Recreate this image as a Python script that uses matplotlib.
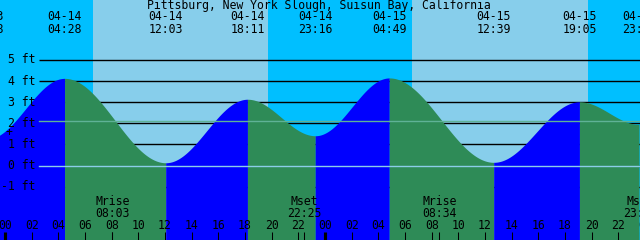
import numpy as np
import matplotlib
matplotlib.use("Agg")
import matplotlib.pyplot as plt
import matplotlib.transforms as mtransforms

# ---- data (hours measured from 04-14 00:00) ----
event_dates = ["04-13", "04-14", "04-14", "04-14", "04-14", "04-15", "04-15", "04-15", "04-15"]
event_times = ["22:38", "04:28", "12:03", "18:11", "23:16", "04:49", "12:39", "19:05", "23:33"]
event_heights = [1.25, 4.13, 0.13, 3.14, 1.41, 4.15, 0.15, 3.02, 1.95]

moon_names = ["Mrise", "Mset", "Mrise", "Mset"]
moon_times = ["08:03", "22:25", "08:34", "23:38"]
moon_days = [0, 0, 1, 1]

sun_rise = [6.60, 30.525]
sun_set = [19.725, 43.725]

ft_levels = [-1, 0, 1, 2, 3, 4, 5]
datum_level = 0.0
msl_level = 2.1
hour_labels = ["00", "02", "04", "06", "08", "10", "12", "14", "16", "18", "20", "22"]
title = "Pittsburg, New York Slough, Suisun Bay, California"


def to_hours(day_str, hm):
    day = 0 if day_str == "04-14" else (1 if day_str == "04-15" else -1)
    h, m = hm.split(":")
    return day * 24 + int(h) + int(m) / 60.0


event_t = [to_hours(d, tm) for d, tm in zip(event_dates, event_times)]

# ---- figure / scale setup ----
W, H = 640, 240
px_per_hour = 320 / 24.0
x0_px = 5.0
zero_px = 165.5
px_per_ft = 21.1

fig = plt.figure(figsize=(6.4, 2.4), dpi=100)
ax = fig.add_axes([0, 0, 1, 1])
xmin = -x0_px / px_per_hour
xmax = (W - x0_px) / px_per_hour
ymax = zero_px / px_per_ft
ymin = (zero_px - H) / px_per_ft
ax.set_xlim(xmin, xmax)
ax.set_ylim(ymin, ymax)
ax.axis("off")

NIGHT = "#00BFFF"
DAY = "#87CEEB"
FLOOD = "#0000FF"
EBB = "#2E8B57"

# background
ax.axvspan(xmin, xmax, color=NIGHT, zorder=0, lw=0)
for r, s in zip(sun_rise, sun_set):
    ax.axvspan(r, s, color=DAY, zorder=0.5, lw=0)

# grid lines (behind the fill)
line_start = 39.5 / px_per_hour + xmin
for lv in ft_levels:
    ax.plot([line_start, xmax], [lv, lv], color="black", lw=1.0, zorder=1,
            solid_capstyle="butt")

# tide curve by cosine between extremes
for i in range(len(event_t) - 1):
    ta, tb = event_t[i], event_t[i + 1]
    va, vb = event_heights[i], event_heights[i + 1]
    tt = np.linspace(ta, tb, 200)
    f = (tt - ta) / (tb - ta)
    yy = va + (vb - va) * (1 - np.cos(np.pi * f)) / 2
    col = FLOOD if vb > va else EBB
    ax.fill_between(tt, yy, ymin, color=col, lw=0, zorder=2)

# datum & msl lines on top
ax.plot([line_start, xmax], [datum_level, datum_level], color="#8CCDE8", lw=1.0, zorder=3)
ax.plot([line_start, xmax], [msl_level, msl_level], color="#5FB296", lw=1.0, zorder=3)

FONT = dict(family="DejaVu Sans Mono", fontsize=8.3, color="black")
trans_x = mtransforms.blended_transform_factory(ax.transData, ax.transAxes)

# title
ax.text(0.498, 1 - 6.0 / H, title, transform=ax.transAxes, ha="center", va="center",
        zorder=5, **FONT)

# tide event labels
for t, d, tm in zip(event_t, event_dates, event_times):
    ax.text(t, 1 - 17.0 / H, d, transform=trans_x, ha="center", va="center", zorder=5, **FONT)
    ax.text(t, 1 - 29.5 / H, tm, transform=trans_x, ha="center", va="center", zorder=5, **FONT)

# y labels
for lv in ft_levels:
    ax.text(35.5 / W, lv, f"{lv} ft", transform=mtransforms.blended_transform_factory(ax.transAxes, ax.transData),
            ha="right", va="center", zorder=5, **FONT)

# current-time marker
ax.text(0.3, 1.55, "+", ha="center", va="center", zorder=5, **FONT)

# hour labels and ticks
for day in range(3):
    for j, lab in enumerate(hour_labels):
        t = day * 24 + 2 * j
        if t > 48.5:
            continue
        ax.text(t, (H - 225.5) / H, lab, transform=trans_x, ha="center", va="center",
                zorder=5, **FONT)
        lw = 3.0 if lab == "00" else 1.0
        ax.plot([t, t], [0, 8.5 / H], transform=trans_x, color="black", lw=lw * 0.75,
                zorder=5, solid_capstyle="butt")

# moon labels and ticks
for nm, tm, dd in zip(moon_names, moon_times, moon_days):
    h, m = tm.split(":")
    t = dd * 24 + int(h) + int(m) / 60.0
    ax.text(t, (H - 201.7) / H, nm, transform=trans_x, ha="center", va="center", zorder=5, **FONT)
    ax.text(t, (H - 213.5) / H, tm, transform=trans_x, ha="center", va="center", zorder=5, **FONT)
    ax.plot([t, t], [0, 8.5 / H], transform=trans_x, color="black", lw=0.75, zorder=5,
            solid_capstyle="butt")

fig.savefig("out.png", dpi=100)
